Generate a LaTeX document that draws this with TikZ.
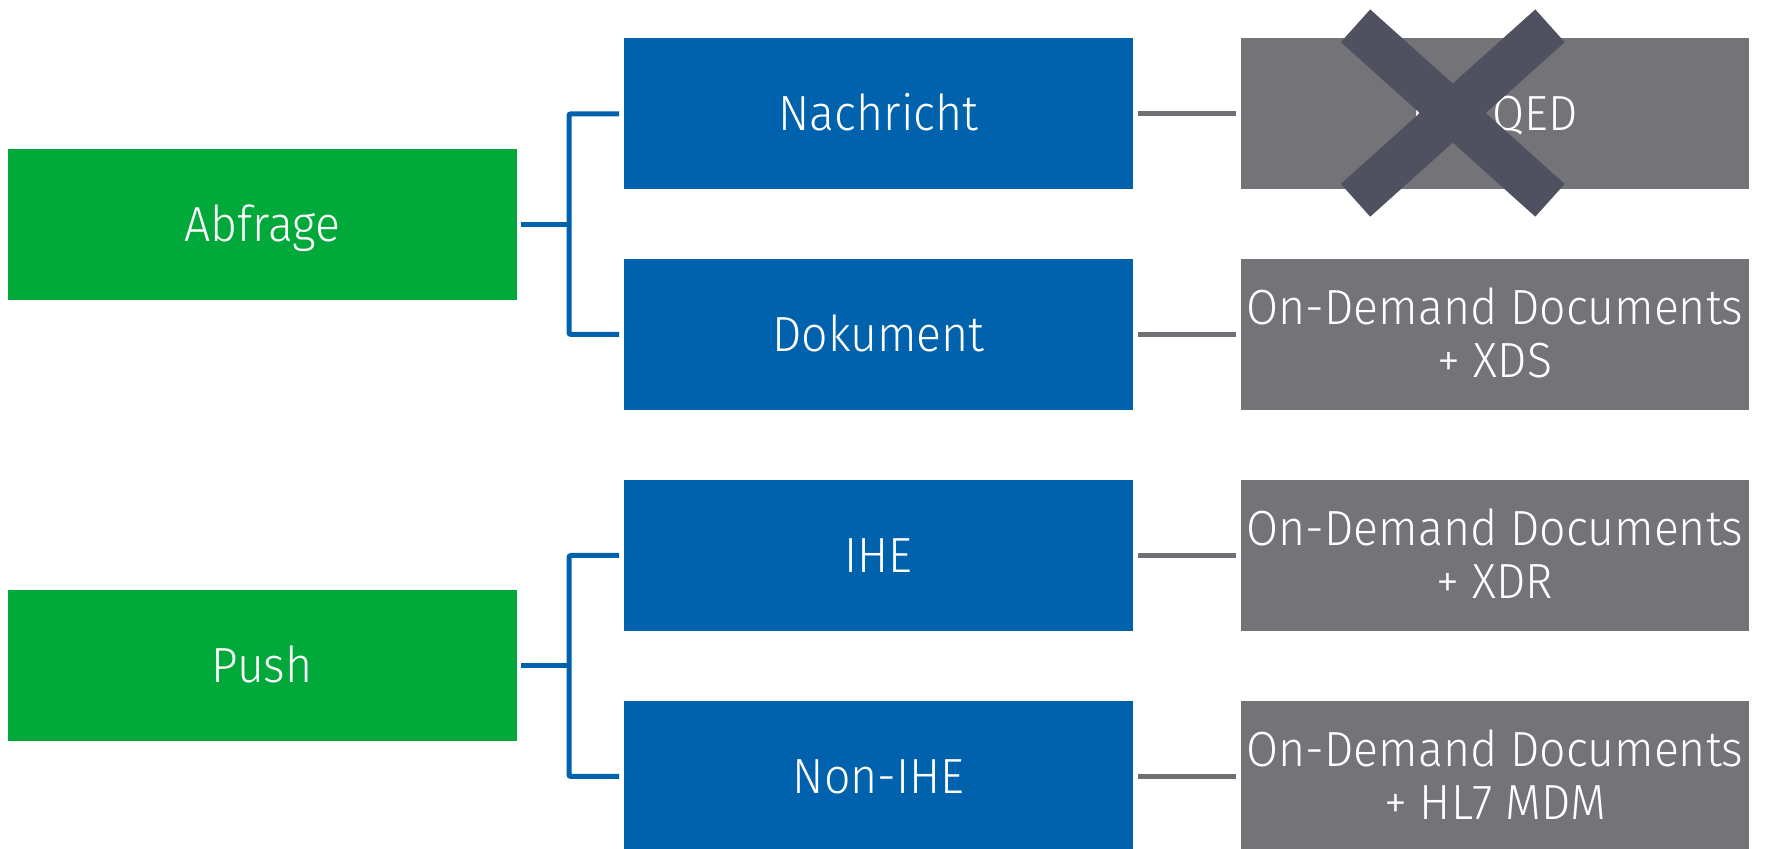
\documentclass[tikz,border=0pt]{standalone}
\usepackage{fontspec}
\setmainfont{Fira Sans Light}[FakeStretch=0.94]
\definecolor{boxgreen}{HTML}{00A93A}
\definecolor{boxblue}{HTML}{0061AD}
\definecolor{boxgray}{HTML}{747378}
\definecolor{linegray}{HTML}{6F6F74}
\definecolor{crossgray}{HTML}{4F5160}
\begin{document}
\begin{tikzpicture}[x=0.5pt,y=-0.5pt,
  basebox/.style={rectangle, inner sep=0pt, outer sep=0pt, minimum width=254.3pt, minimum height=75.5pt,
    text=white, align=center, text height=17pt, text depth=0pt,
    font=\fontsize{24.7pt}{26.5pt}\selectfont},
  greenbox/.style={basebox, fill=boxgreen},
  bluebox/.style={basebox, fill=boxblue},
  graybox/.style={basebox, fill=boxgray},
  twoline/.style={text height=43.5pt, text depth=0pt},
  bconn/.style={draw=boxblue, line width=2.5pt, rounded corners=1pt},
  gconn/.style={draw=linegray, line width=2.5pt},
  crossarm/.style={draw=crossgray, line width=22pt, line cap=butt}]
\useasboundingbox (0,0) rectangle (1769,849);
% left column
\node[greenbox] (g1) at (262.25,224.2) {Abfrage};
\node[greenbox] (g2) at (262.25,666) {Push};
% middle column
\node[bluebox] (b1) at (878.5,113.8) {Nachricht};
\node[bluebox] (b2) at (878.5,334.5) {Dokument};
\node[bluebox] (b3) at (878.5,555.5) {IHE};
\node[bluebox] (b4) at (878.5,776.5) {Non-IHE};
% right column
\node[graybox] (r1) at (1495,113.8) {IHE QED};
\node[graybox, twoline] (r2) at (1495,334.5) {On-Demand Documents\\+ XDS};
\node[graybox, twoline] (r3) at (1495,555.5) {On-Demand Documents\\+ XDR};
\node[graybox, twoline] (r4) at (1495,776.5) {On-Demand Documents\\+ HL7 MDM};
% brackets
\coordinate (j1) at (569,224.2);
\coordinate (j2) at (569,666);
\draw[bconn] ([xshift=2.25pt]g1.east) -- (j1);
\draw[bconn] ([xshift=-2.5pt]b1.west) -| (j1) |- ([xshift=-2.5pt]b2.west);
\draw[bconn] ([xshift=2.25pt]g2.east) -- (j2);
\draw[bconn] ([xshift=-2.5pt]b3.west) -| (j2) |- ([xshift=-2.5pt]b4.west);
% gray connectors
\draw[gconn] ([xshift=2.5pt]b1.east) -- ([xshift=-2.5pt]r1.west);
\draw[gconn] ([xshift=2.5pt]b2.east) -- ([xshift=-2.5pt]r2.west);
\draw[gconn] ([xshift=2.5pt]b3.east) -- ([xshift=-2.5pt]r3.west);
\draw[gconn] ([xshift=2.5pt]b4.east) -- ([xshift=-2.5pt]r4.west);
% cross over first gray box
\coordinate (xa) at (1355.5,25.8);
\coordinate (xb) at (1550,200.3);
\coordinate (xc) at (1550,25.8);
\coordinate (xd) at (1355.5,200.3);
\draw[crossarm] (xa) -- (xb);
\draw[crossarm] (xc) -- (xd);
\end{tikzpicture}
\end{document}
